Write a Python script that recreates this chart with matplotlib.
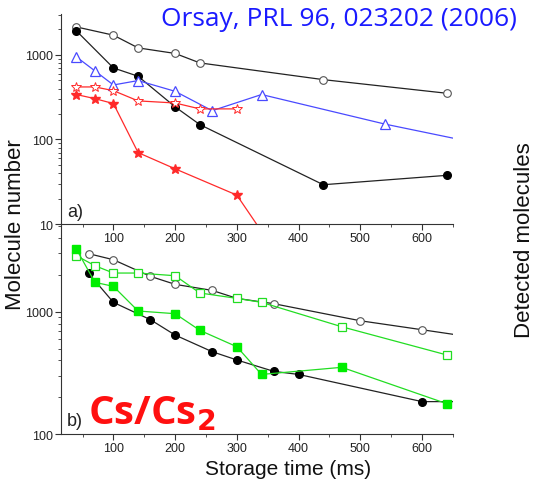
import matplotlib.pyplot as plt
from matplotlib.ticker import LogLocator, NullFormatter, MultipleLocator

plt.rcParams['font.family'] = ['Liberation Sans', 'DejaVu Sans']

# panel a) data
t_a_open = [40, 100, 140, 200, 240, 440, 640]
n_a_open = [2140, 1710, 1210, 1040, 804, 510, 352]
t_a_full = [40, 100, 140, 200, 240, 440, 640]
n_a_full = [1923, 701, 559, 243, 150, 29.2, 37.7]
t_a_tri = [40, 70, 100, 140, 200, 260, 340, 540, 740]
n_a_tri = [947, 647, 441, 497, 371, 219, 340, 152, 76]
t_a_ostar = [40, 70, 100, 140, 200, 240, 300]
n_a_ostar = [418, 418, 378, 286, 270, 230, 230]
t_a_fstar = [40, 70, 100, 140, 200, 300, 360]
n_a_fstar = [340, 304, 266, 70, 45, 22, 5]

# panel b) data
t_b_open = [60, 100, 160, 200, 260, 300, 360, 500, 600, 700]
n_b_open = [2980, 2660, 1944, 1673, 1493, 1285, 1162, 843, 712, 600]
t_b_full = [60, 100, 160, 200, 260, 300, 360, 400, 600, 660]
n_b_full = [2055, 1192, 860, 644, 471, 403, 325, 307, 184, 184]
t_b_gfull = [40, 70, 100, 140, 200, 240, 300, 340, 470, 640]
n_b_gfull = [3250, 1738, 1611, 1013, 963, 704, 517, 307, 351, 177]
t_b_gopen = [40, 70, 100, 140, 200, 240, 300, 340, 470, 640]
n_b_gopen = [2870, 2377, 2070, 2070, 1968, 1422, 1285, 1192, 753, 443]

xticks = [100, 200, 300, 400, 500, 600]

fig = plt.figure(figsize=(5.49, 4.81), dpi=100)
ax1 = fig.add_axes([0.111, 0.532, 0.714, 0.437])
ax2 = fig.add_axes([0.111, 0.0956, 0.714, 0.4364])
ax1.patch.set_visible(False)
ax2.patch.set_visible(False)
ax1.set_zorder(3)

blk = '#222222'
blue = '#4a4aff'
red = '#ff2a2a'
green = '#22dd22'
ms = 5.5

ax1.plot(t_a_open, n_a_open, '-o', color=blk, mfc='white', mec='#555555', lw=0.9, ms=ms, mew=0.8)
ax1.plot(t_a_full, n_a_full, '-o', color=blk, mfc='black', mec='black', lw=0.9, ms=ms)
ax1.plot(t_a_tri, n_a_tri, '-^', color=blue, mfc='white', mec=blue, lw=0.9, ms=7, mew=0.9)
ax1.plot(t_a_ostar, n_a_ostar, '-*', color=red, mfc='white', mec=red, lw=0.9, ms=7, mew=0.7)
ax1.plot(t_a_fstar, n_a_fstar, '-*', color=red, mfc=red, mec=red, lw=0.9, ms=7)

ax2.plot(t_b_open, n_b_open, '-o', color=blk, mfc='white', mec='#555555', lw=0.9, ms=ms, mew=0.8)
ax2.plot(t_b_full, n_b_full, '-o', color=blk, mfc='black', mec='black', lw=0.9, ms=ms)
ax2.plot(t_b_gopen, n_b_gopen, '-s', color=green, mfc='white', mec=green, lw=0.9, ms=ms, mew=0.9)
ax2.plot(t_b_gfull, n_b_gfull, '-s', color=green, mfc='#00ee00', mec='#00ee00', lw=0.9, ms=ms)

for ax, lo, hi, yt in [(ax1, 10, 3050, [10, 100, 1000]), (ax2, 100, 5200, [100, 1000])]:
    ax.set_yscale('log')
    ax.set_ylim(lo, hi)
    ax.set_xlim(15, 650)
    ax.spines['top'].set_visible(False)
    ax.spines['right'].set_visible(False)
    ax.spines['left'].set_color('#333333')
    ax.spines['bottom'].set_color('#333333')
    ax.xaxis.set_minor_locator(MultipleLocator(50))
    ax.yaxis.set_minor_locator(LogLocator(base=10, subs=range(2, 10)))
    ax.yaxis.set_minor_formatter(NullFormatter())
    ax.set_xticks(xticks)
    ax.set_xticklabels([str(t) for t in xticks])
    ax.set_yticks(yt)
    ax.set_yticklabels([str(t) for t in yt])
    ax.tick_params(labelsize=9, colors='#333333', labelcolor='#222222', direction='out', length=4, width=0.8, pad=2)
    ax.tick_params(which='minor', direction='out', length=2, width=0.6, colors='#333333')

ax1.text(25, 12.5, 'a)', fontsize=13, color='#222222')
ax2.text(25, 118, 'b)', fontsize=13, color='#222222')

fig.text(0.028, 0.532, 'Molecule number', rotation=90, ha='center', va='center', fontsize=16, color='#111111')
fig.text(0.956, 0.5, 'Detected molecules', rotation=90, ha='center', va='center', fontsize=16, color='#111111')
fig.text(0.525, 0.004, 'Storage time (ms)', ha='center', va='bottom', fontsize=15, color='#111111')

fig.text(0.942, 0.985, 'Orsay, PRL 96, 023202 (2006)', ha='right', va='top', fontsize=19,
         color='#1a1aff', family='Open Sans')
fig.text(0.160, 0.118, r'Cs/Cs$_\mathbf{2}$', ha='left', va='baseline', fontsize=29,
         color='#ff1010', fontweight='bold', family='Open Sans')

fig.savefig('out.png', dpi=100)
